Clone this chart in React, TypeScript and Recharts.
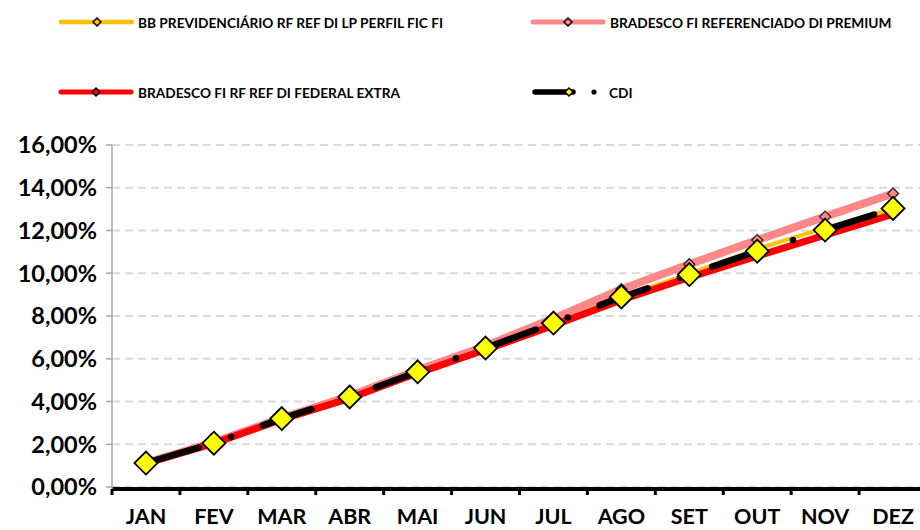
import React from 'react';
import { LineChart, Line, XAxis, YAxis, CartesianGrid, Legend } from 'recharts';

const MONTHS = ['JAN', 'FEV', 'MAR', 'ABR', 'MAI', 'JUN', 'JUL', 'AGO', 'SET', 'OUT', 'NOV', 'DEZ'];
const BB = [1.1, 2.0, 3.13, 4.16, 5.36, 6.46, 7.63, 8.88, 9.98, 11.14, 12.12, 13.03];
const PREMIUM = [1.13, 2.09, 3.23, 4.26, 5.46, 6.6, 7.88, 9.25, 10.42, 11.55, 12.65, 13.73];
const FEDERAL = [1.1, 2.04, 3.16, 4.15, 5.33, 6.42, 7.56, 8.75, 9.8, 10.8, 11.78, 12.76];
const CDI = [1.12, 2.05, 3.2, 4.21, 5.39, 6.5, 7.67, 8.89, 9.94, 11.03, 12.02, 13.03];
const Y_TICKS = [0, 2, 4, 6, 8, 10, 12, 14, 16];

const NAMES = {
  bb: 'BB PREVIDENCIÁRIO RF REF DI LP PERFIL FIC FI',
  premium: 'BRADESCO FI REFERENCIADO DI PREMIUM',
  federal: 'BRADESCO FI RF REF DI FEDERAL EXTRA',
  cdi: 'CDI',
};

const data = MONTHS.map((m, i) => ({
  idx: i,
  month: m,
  bb: BB[i],
  premium: PREMIUM[i],
  federal: FEDERAL[i],
  cdi: CDI[i],
}));

// category boundaries (Excel puts tick marks between categories)
const BAND_EDGES = MONTHS.map((_, i) => i - 0.5).concat([MONTHS.length - 0.5]);

const FONT = 'Lato, "Open Sans", sans-serif';

const COLORS = {
  bb: '#ffc000',
  premium: '#ff8787',
  federal: '#ff0000',
  cdi: '#000000',
  cdiMarker: '#ffff00',
};

const diamondPath = (cx: number, cy: number, r: number) =>
  `M${cx},${cy - r}L${cx + r},${cy}L${cx},${cy + r}L${cx - r},${cy}Z`;

const makeDiamond = (r: number, fill: string, stroke: string, sw: number) => (props: any) => {
  const { cx, cy, index } = props;
  if (cx == null || cy == null) return <g key={`e-${index}`} />;
  return (
    <path
      key={`dm-${index}`}
      d={diamondPath(cx, cy, r)}
      fill={fill}
      stroke={stroke}
      strokeWidth={sw}
    />
  );
};

// Month label drawn in the middle of the band that starts at this edge tick
const MonthTick = (props: any) => {
  const { x, y, payload, width } = props;
  const i = Math.round(payload.value + 0.5);
  if (i < 0 || i >= MONTHS.length) return <g />;
  const half = width / MONTHS.length / 2;
  return (
    <text
      x={x + half}
      y={y}
      dy="0.71em"
      textAnchor="middle"
      fontFamily={FONT}
      fontWeight={700}
      fontSize={21.5}
      fill="#000"
    >
      {MONTHS[i]}
    </text>
  );
};

const LEGEND_ITEMS = [
  { key: 'bb', x1: 61, x2: 132, mx: 97, tx: 138, y: 22, w: 4.5, mfill: COLORS.bb },
  { key: 'premium', x1: 533, x2: 603, mx: 568, tx: 610, y: 22, w: 5, mfill: COLORS.premium },
  { key: 'federal', x1: 61, x2: 131, mx: 96, tx: 138, y: 92, w: 5, mfill: COLORS.federal },
  { key: 'cdi', x1: 535, x2: 573, mx: 569, tx: 609, y: 92, w: 5.5, mfill: COLORS.cdiMarker, dotx: 594 },
];

const LegendContent = () => (
  <svg width={920} height={110} style={{ display: 'block' }}>
    {LEGEND_ITEMS.map((it) => (
      <g key={it.key}>
        <line
          x1={it.x1}
          x2={it.x2}
          y1={it.y}
          y2={it.y}
          stroke={(COLORS as any)[it.key]}
          strokeWidth={it.w}
          strokeLinecap="round"
        />
        <path d={diamondPath(it.mx, it.y, 4)} fill={it.mfill} stroke="#000" strokeWidth={1.5} />
        {it.dotx ? <circle cx={it.dotx} cy={it.y} r={2.6} fill="#000" /> : null}
        <text
          x={it.tx}
          y={it.y}
          dominantBaseline="central"
          fontFamily={FONT}
          fontWeight={700}
          fontSize={13.7}
          fill="#000"
        >
          {(NAMES as any)[it.key]}
        </text>
      </g>
    ))}
  </svg>
);

const fmtPct = (v: number) => v.toFixed(2).replace('.', ',') + '%';

export default function App() {
  return (
    <div
      style={{
        position: 'absolute',
        left: 0,
        top: 0,
        width: 920,
        height: 530,
        overflow: 'hidden',
        background: '#fff',
      }}
    >
      <LineChart
        width={932}
        height={530}
        data={data}
        margin={{ top: 145, right: 5, bottom: 0, left: 0 }}
      >
        <CartesianGrid
          vertical={false}
          stroke="#d9d9d9"
          strokeWidth={2}
          strokeDasharray="8 5"
          yAxisId="y"
          xAxisId="m"
        />
        <XAxis
          xAxisId="m"
          type="number"
          dataKey="idx"
          domain={[-0.5, MONTHS.length - 0.5]}
          ticks={BAND_EDGES}
          interval={0}
          tick={<MonthTick />}
          tickLine={{ stroke: '#000', strokeWidth: 3 }}
          tickSize={6}
          tickMargin={14}
          axisLine={{ stroke: '#000', strokeWidth: 4 }}
          height={41}
          allowDataOverflow
        />
        <YAxis
          yAxisId="y"
          type="number"
          domain={[-0.0936, 16]}
          ticks={Y_TICKS}
          tickFormatter={fmtPct}
          allowDataOverflow
          width={112}
          interval={0}
          tick={{ fontFamily: FONT, fontWeight: 700, fontSize: 23.5, fill: '#000' }}
          tickLine={{ stroke: '#a6a6a6', strokeWidth: 1.5 }}
          axisLine={{ stroke: '#a6a6a6', strokeWidth: 1.5 }}
          tickSize={6}
          tickMargin={9}
        />
        <Legend
          verticalAlign="middle"
          align="center"
          content={<LegendContent />}
          wrapperStyle={{ top: 0, left: 0, width: 920, height: 110 }}
        />
        <Line
          xAxisId="m"
          yAxisId="y"
          type="linear"
          dataKey="bb"
          name={NAMES.bb}
          stroke={COLORS.bb}
          strokeWidth={4}
          strokeLinejoin="round"
          dot={makeDiamond(5, COLORS.bb, '#000', 1.2)}
          activeDot={false}
          isAnimationActive={false}
        />
        <Line
          xAxisId="m"
          yAxisId="y"
          type="linear"
          dataKey="premium"
          name={NAMES.premium}
          stroke={COLORS.premium}
          strokeWidth={8}
          strokeLinejoin="round"
          dot={makeDiamond(5.5, COLORS.premium, '#222', 1.3)}
          activeDot={false}
          isAnimationActive={false}
        />
        <Line
          xAxisId="m"
          yAxisId="y"
          type="linear"
          dataKey="federal"
          name={NAMES.federal}
          stroke={COLORS.federal}
          strokeWidth={7}
          strokeLinejoin="round"
          dot={makeDiamond(5, COLORS.federal, '#000', 1.2)}
          activeDot={false}
          isAnimationActive={false}
        />
        <Line
          xAxisId="m"
          yAxisId="y"
          type="linear"
          dataKey="cdi"
          name={NAMES.cdi}
          stroke={COLORS.cdi}
          strokeWidth={6.5}
          strokeLinecap="round"
          strokeLinejoin="round"
          strokeDasharray="51 34 0.1 34"
          strokeDashoffset={-4}
          dot={makeDiamond(11.5, COLORS.cdiMarker, '#000', 1.8)}
          activeDot={false}
          isAnimationActive={false}
        />
      </LineChart>
    </div>
  );
}
